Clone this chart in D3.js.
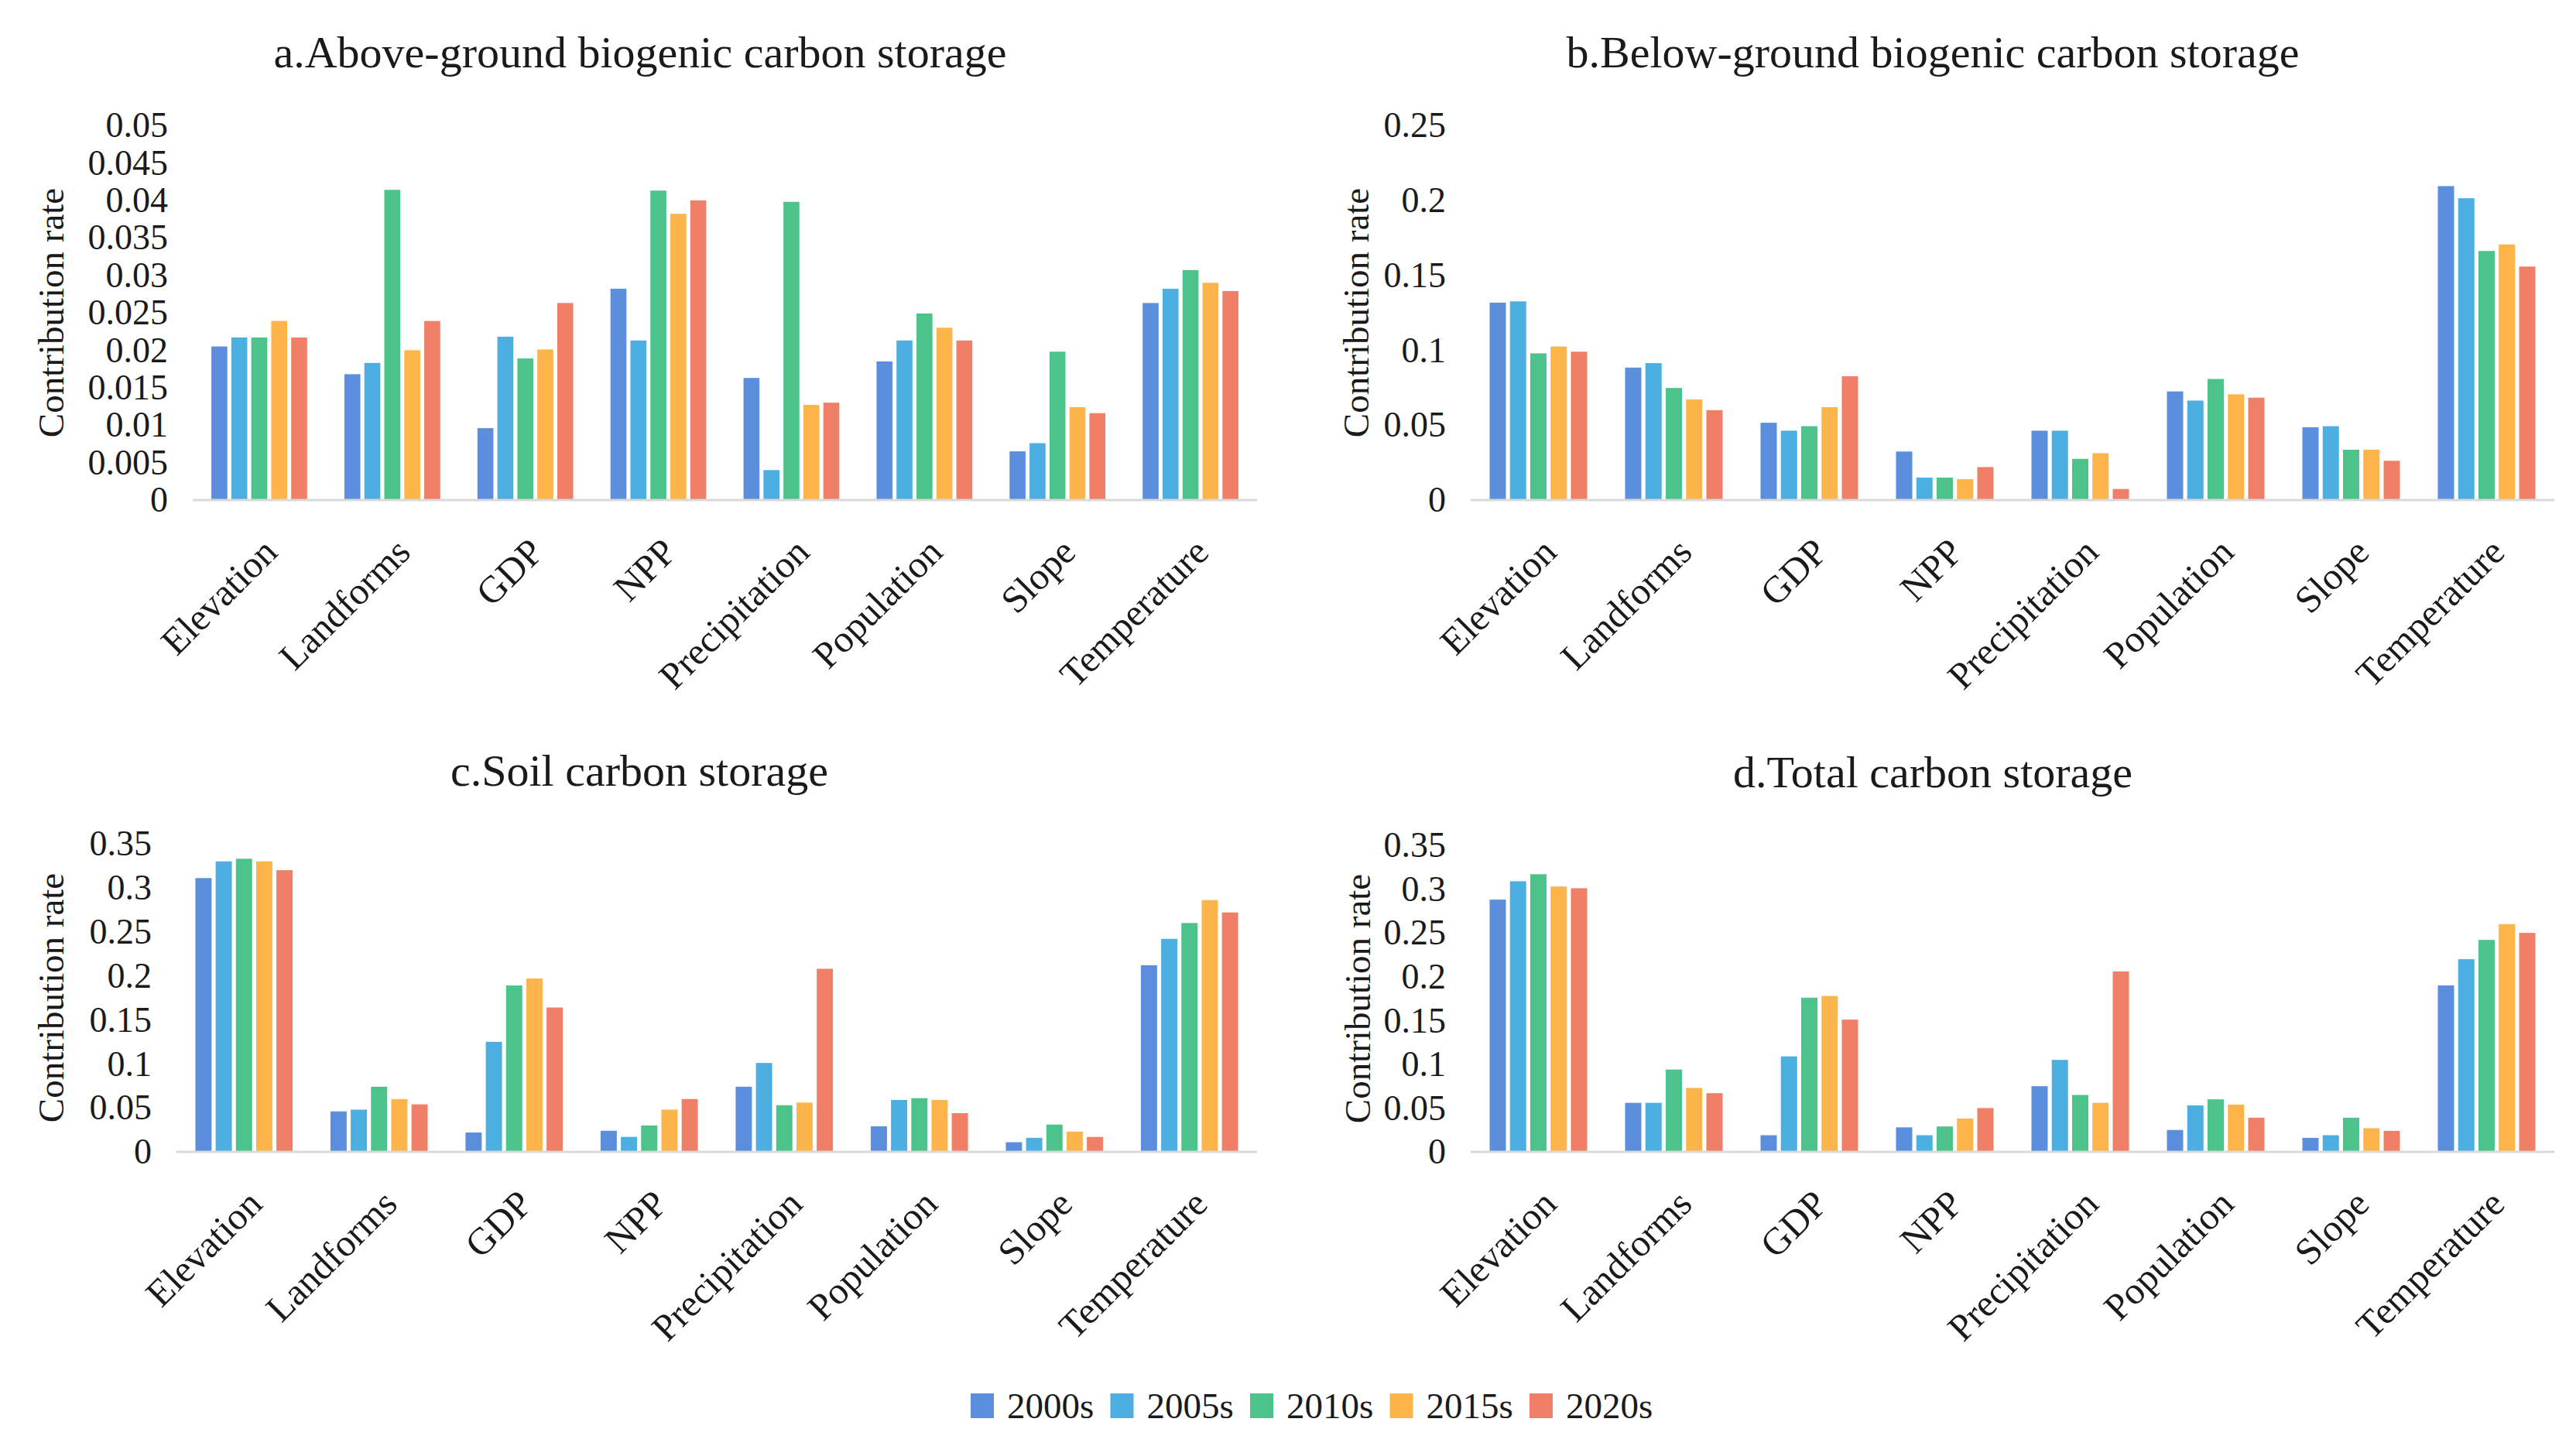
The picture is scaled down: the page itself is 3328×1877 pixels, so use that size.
<!DOCTYPE html>
<meta charset="utf-8">
<head>
  <style>
    body { margin: 0; background: #fff; }
    svg { display: block; background: #fff; }
    svg text { font-family: "Liberation Serif", "Times New Roman", serif; fill: #1a1a1a; }
    .title { font-size: 58px; }
    .ytick text { font-size: 46px; }
    .xtick text { font-size: 49px; }
    .ytitle { font-size: 47px; }
    .legend text { font-size: 47px; }
    .baseline { stroke: #d9d9d9; stroke-width: 3px; }
  </style>
  <script src="https://cdn.jsdelivr.net/npm/d3@7"></script>
</head>
<body>
<script>
  var categories = ["Elevation", "Landforms", "GDP", "NPP", "Precipitation", "Population", "Slope", "Temperature"];
  var years = ["2000s", "2005s", "2010s", "2015s", "2020s"];
  var colors = ["#5b8fdd", "#4daee2", "#4cc38b", "#fdb44b", "#ef7f66"];

  // values per category, one entry per year
  var aboveGround = [
    [0.0205, 0.0217, 0.0217, 0.0239, 0.0217],
    [0.0168, 0.0183, 0.0414, 0.0200, 0.0239],
    [0.0096, 0.0218, 0.0189, 0.0201, 0.0263],
    [0.0282, 0.0213, 0.0413, 0.0382, 0.0400],
    [0.0163, 0.0040, 0.0398, 0.0127, 0.0130],
    [0.0185, 0.0213, 0.0249, 0.0230, 0.0213],
    [0.0065, 0.0076, 0.0198, 0.0124, 0.0116],
    [0.0263, 0.0282, 0.0307, 0.0290, 0.0279]
  ];
  var belowGround = [
    [0.1317, 0.1326, 0.0979, 0.1025, 0.0990],
    [0.0884, 0.0914, 0.0748, 0.0671, 0.0600],
    [0.0516, 0.0463, 0.0493, 0.0620, 0.0826],
    [0.0324, 0.0150, 0.0150, 0.0139, 0.0220],
    [0.0463, 0.0463, 0.0275, 0.0313, 0.0074],
    [0.0725, 0.0664, 0.0808, 0.0706, 0.0683],
    [0.0486, 0.0493, 0.0336, 0.0336, 0.0262],
    [0.2095, 0.2014, 0.1662, 0.1706, 0.1558]
  ];
  var soil = [
    [0.311, 0.330, 0.333, 0.330, 0.320],
    [0.046, 0.048, 0.074, 0.060, 0.054],
    [0.022, 0.125, 0.189, 0.197, 0.164],
    [0.024, 0.017, 0.030, 0.048, 0.060],
    [0.074, 0.101, 0.053, 0.056, 0.208],
    [0.029, 0.059, 0.061, 0.059, 0.044],
    [0.011, 0.016, 0.031, 0.023, 0.017],
    [0.212, 0.242, 0.260, 0.286, 0.272]
  ];
  var total = [
    [0.288, 0.309, 0.317, 0.303, 0.301],
    [0.056, 0.056, 0.094, 0.073, 0.067],
    [0.019, 0.109, 0.176, 0.178, 0.151],
    [0.028, 0.019, 0.029, 0.038, 0.050],
    [0.075, 0.105, 0.065, 0.056, 0.206],
    [0.025, 0.053, 0.060, 0.054, 0.039],
    [0.016, 0.019, 0.039, 0.027, 0.024],
    [0.190, 0.220, 0.242, 0.260, 0.250]
  ];

  var ticksA = [0, 0.005, 0.01, 0.015, 0.02, 0.025, 0.03, 0.035, 0.04, 0.045, 0.05];
  var ticksB = [0, 0.05, 0.1, 0.15, 0.2, 0.25];
  var ticksCD = [0, 0.05, 0.1, 0.15, 0.2, 0.25, 0.3, 0.35];

  var titles = ["a.Above-ground biogenic carbon storage", "b.Below-ground biogenic carbon storage",
                "c.Soil carbon storage", "d.Total carbon storage"];

  var W = 3328, H = 1877;

  var svg = d3.select("body").append("svg")
      .attr("width", W)
      .attr("height", H)
      .attr("font-family", "'Liberation Serif', 'Times New Roman', serif");

  // plot frames (x range of category axis, y range from 0 to top tick)
  var panels = [
    {title: titles[0], data: aboveGround, ticks: ticksA,  x: [249, 1624],  y: [646, 162],   tx: 827,  ty: 87,   ytx: 66},
    {title: titles[1], data: belowGround, ticks: ticksB,  x: [1900, 3300], y: [646, 162],   tx: 2497, ty: 87,   ytx: 1752},
    {title: titles[2], data: soil,        ticks: ticksCD, x: [228, 1624],  y: [1488, 1090], tx: 826,  ty: 1015, ytx: 66},
    {title: titles[3], data: total,       ticks: ticksCD, x: [1900, 3300], y: [1488, 1092], tx: 2497, ty: 1017, ytx: 1754}
  ];

  panels.forEach(drawPanel);

  function drawPanel(p) {
    var g = svg.append("g");

    var x0 = d3.scaleBand()
        .domain(categories)
        .range(p.x)
        .paddingInner(0.28)
        .paddingOuter(0.14);

    var x1 = d3.scaleBand()
        .domain(years)
        .range([0, x0.bandwidth()])
        .paddingInner(0.2);

    var y = d3.scaleLinear()
        .domain([0, d3.max(p.ticks)])
        .range(p.y);

    g.append("text")
        .attr("class", "title")
        .attr("x", p.tx)
        .attr("y", p.ty)
        .attr("text-anchor", "middle")
        .text(p.title);

    // y axis labels only, no line
    var yAxis = g.append("g")
        .attr("class", "ytick")
        .attr("transform", "translate(" + p.x[0] + ",0)")
        .call(d3.axisLeft(y)
            .tickValues(p.ticks)
            .tickSize(0)
            .tickPadding(32)
            .tickFormat(function(v) { return String(+v.toFixed(3)); }));
    yAxis.attr("font-family", null).attr("font-size", null);
    yAxis.select(".domain").remove();

    g.append("text")
        .attr("class", "ytitle")
        .attr("transform", "translate(" + (p.ytx + 16) + "," + ((p.y[0] + p.y[1]) / 2) + ")rotate(-90)")
        .attr("text-anchor", "middle")
        .text("Contribution rate");

    // bars
    var groups = g.selectAll(".grp")
        .data(p.data)
        .enter().append("g")
        .attr("class", "grp")
        .attr("transform", function(d, i) { return "translate(" + x0(categories[i]) + ",0)"; });

    groups.selectAll("rect")
        .data(function(d) { return d; })
        .enter().append("rect")
        .attr("x", function(d, j) { return x1(years[j]); })
        .attr("y", function(d) { return y(d); })
        .attr("width", x1.bandwidth())
        .attr("height", function(d) { return y(0) - y(d); })
        .attr("fill", function(d, j) { return colors[j]; });

    g.append("line")
        .attr("class", "baseline")
        .attr("x1", p.x[0]).attr("x2", p.x[1])
        .attr("y1", y(0)).attr("y2", y(0));

    // rotated category labels
    var xAxis = g.append("g")
        .attr("class", "xtick")
        .attr("transform", "translate(0," + y(0) + ")")
        .call(d3.axisBottom(x0).tickSize(0).tickPadding(0));
    xAxis.attr("font-family", null).attr("font-size", null);
    xAxis.select(".domain").remove();
    xAxis.selectAll("text")
        .attr("dy", null).attr("y", null)
        .attr("text-anchor", "end")
        .attr("transform", "translate(26,70)rotate(-45)");
  }

  // legend
  var legend = svg.append("g").attr("class", "legend");
  var items = legend.selectAll("g")
      .data(years)
      .enter().append("g")
      .attr("transform", function(d, i) { return "translate(" + (1254 + i * 180.5) + ",1800)"; });
  items.append("rect")
      .attr("width", 30).attr("height", 32)
      .attr("fill", function(d, i) { return colors[i]; });
  items.append("text")
      .attr("x", 47).attr("y", 32)
      .text(function(d) { return d; });
</script>
</body>
